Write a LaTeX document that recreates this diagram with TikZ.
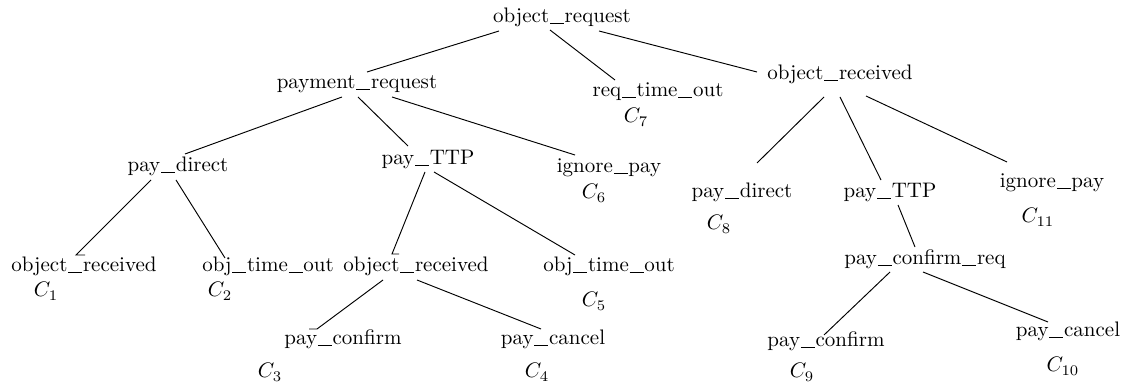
\documentclass[tikz,border=0pt]{standalone}
\usetikzlibrary{calc}
\newcommand\us{\kern0.04em\rule[-0.2pt]{0.66em}{0.4pt}\kern0.04em}
\begin{document}
\begin{tikzpicture}[x=0.47619pt,y=-0.47619pt,
  lbl/.style={inner sep=0pt, anchor=base},
  edge/.style={line width=0.45pt}]
\useasboundingbox (0,0) rectangle (1125,390);
% level 0
\node[lbl] (or0) at (562,23) {object\us request};
% level 1
\node[lbl] (pr)  at (357,89) {payment\us request};
\node[lbl] (rto) at (658,97) {req\us time\us out};
\node[lbl] (c7)  at (636,123) {$C_{7}$};
\node[lbl] (orR) at (840,80) {object\us received};
% level 2
\node[lbl] (pdL) at (178,172) {pay\us direct};
\node[lbl] (ptL) at (428,165) {pay\us TTP};
\node[lbl] (ipL) at (609,173) {ignore\us pay};
\node[lbl] (c6)  at (594,199) {$C_{6}$};
\node[lbl] (pdR) at (742,198) {pay\us direct};
\node[lbl] (c8)  at (719,230) {$C_{8}$};
\node[lbl] (ptR) at (890,198) {pay\us TTP};
\node[lbl] (ipR) at (1052,188) {ignore\us pay};
\node[lbl] (c11) at (1038,223) {$C_{11}$};
% level 3
\node[lbl] (orL) at (84,272) {object\us received};
\node[lbl] (c1)  at (46,297) {$C_{1}$};
\node[lbl] (otL) at (268,272) {obj\us time\us out};
\node[lbl] (c2)  at (220,297) {$C_{2}$};
\node[lbl] (orM) at (416,272) {object\us received};
\node[lbl] (otM) at (609,272) {obj\us time\us out};
\node[lbl] (c5)  at (594,307) {$C_{5}$};
\node[lbl] (pcr) at (925,265) {pay\us confirm\us req};
% level 4
\node[lbl] (pcL) at (343,345) {pay\us confirm};
\node[lbl] (c3)  at (270,378) {$C_{3}$};
\node[lbl] (pxL) at (553,345) {pay\us cancel};
\node[lbl] (c4)  at (537,378) {$C_{4}$};
\node[lbl] (pcR) at (826,347) {pay\us confirm};
\node[lbl] (c9)  at (802,378) {$C_{9}$};
\node[lbl] (pxR) at (1068,337) {pay\us cancel};
\node[lbl] (c10) at (1063,372) {$C_{10}$};
% connectors
\draw[edge] ([shift={(-63,8)}]or0.base) -- ([shift={(10,-17)}]pr.base);
\draw[edge] ([shift={(-12,7)}]or0.base) -- ([shift={(-43,-17)}]rto.base);
\draw[edge] ([shift={(37,8)}]or0.base) -- ([shift={(-83,-8)}]orR.base);
\draw[edge] ([shift={(-15,8)}]pr.base) -- ([shift={(7,-18)}]pdL.base);
\draw[edge] ([shift={(1,8)}]pr.base) -- ([shift={(-20,-19)}]ptL.base);
\draw[edge] ([shift={(35,8)}]pr.base) -- ([shift={(-34,-18)}]ipL.base);
\draw[edge] ([shift={(-27,8)}]pdL.base) -- ([shift={(-8,-17)}]orL.base) -- ++(9,0);
\draw[edge] ([shift={(-2,8)}]pdL.base) -- ([shift={(-43,-14)}]otL.base);
\draw[edge] ([shift={(-3,7)}]ptL.base) -- ([shift={(-24,-18)}]orM.base) -- ++(7,0);
\draw[edge] ([shift={(6,7)}]ptL.base) -- ([shift={(-34,-17)}]otM.base);
\draw[edge] ([shift={(-33,8)}]orM.base) -- ([shift={(-26,-16)}]pcL.base) -- ++(-8,0);
\draw[edge] ([shift={(1,8)}]orM.base) -- ([shift={(-12,-16)}]pxL.base);
\draw[edge] ([shift={(-16,17)}]orR.base) -- ([shift={(15,-35)}]pdR.base);
\draw[edge] ([shift={(0,17)}]orR.base) -- ([shift={(-9,-18)}]ptR.base);
\draw[edge] ([shift={(26,16)}]orR.base) -- ([shift={(-45,-26)}]ipR.base);
\draw[edge] ([shift={(8,7)}]ptR.base) -- ([shift={(-10,-18)}]pcr.base);
\draw[edge] ([shift={(-35,7)}]pcr.base) -- ([shift={(-2,-12)}]pcR.base);
\draw[edge] ([shift={(-2,7)}]pcr.base) -- ([shift={(-20,-15)}]pxR.base);
\end{tikzpicture}
\end{document}
